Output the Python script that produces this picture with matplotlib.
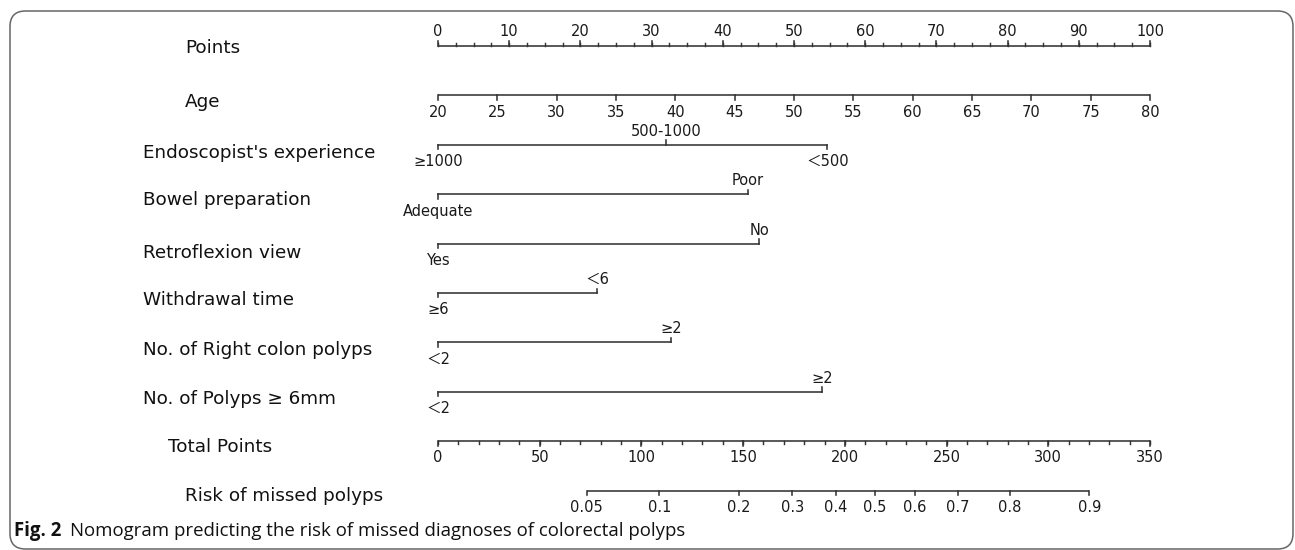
import numpy as np
import matplotlib
matplotlib.use("Agg")
import matplotlib.pyplot as plt
from matplotlib.patches import FancyBboxPatch
from matplotlib.transforms import blended_transform_factory

# ---------------- data ----------------
points_ticks = list(range(0, 101, 10))
points_minor = list(np.arange(0, 100.01, 2.5))

age_ticks = [20, 25, 30, 35, 40, 45, 50, 55, 60, 65, 70, 75, 80]
age_range = [20, 80]          # ages mapped to points 0..100
age_points_range = [0, 100]

endo_levels = ["≥1000", "500-1000", "＜500"]
endo_points = [0, 32.0, 54.7]
bowel_levels = ["Adequate", "Poor"]
bowel_points = [0, 43.5]
retro_levels = ["Yes", "No"]
retro_points = [0, 45.1]
withdraw_levels = ["≥6", "＜6"]
withdraw_points = [0, 22.4]
rightcolon_levels = ["＜2", "≥2"]
rightcolon_points = [0, 32.7]
polyps6_levels = ["＜2", "≥2"]
polyps6_points = [0, 53.9]

total_ticks = list(range(0, 351, 50))
total_minor = list(range(0, 351, 10))

risk_labels = ["0.05", "0.1", "0.2", "0.3", "0.4", "0.5", "0.6", "0.7", "0.8", "0.9"]
risk_total_points = [73.1, 108.8, 148.0, 174.2, 195.5, 214.8, 234.4, 255.5, 281.2, 320.2]

row_names = ["Points", "Age", "Endoscopist's experience", "Bowel preparation",
             "Retroflexion view", "Withdrawal time", "No. of Right colon polyps",
             "No. of Polyps ≥ 6mm", "Total Points", "Risk of missed polyps"]

# ---------------- layout ----------------
W, H = 1295, 550
FONT = ["DejaVu Sans", "Noto Sans CJK SC"]
plt.rcParams["font.family"] = FONT
LC = "#333333"
LW = 1.15
TICK_FS = 10.5
NAME_FS = 13.2

fig = plt.figure(figsize=(W / 100, H / 100), dpi=100)
fig.patch.set_facecolor("white")

row0_px, row_step = 46.0, 49.4
x0_px, x1_px = 438.0, 1150.0
top_px = row0_px - 0.5 * row_step
bot_px = row0_px + 9.5 * row_step
pos = [x0_px / W, 1 - bot_px / H, (x1_px - x0_px) / W, (bot_px - top_px) / H]

ax = fig.add_axes(pos)
ax.set_xlim(0, 100)
ax.set_ylim(9.5, -0.5)
ax.axis("off")

axt = fig.add_axes(pos)
axt.set_xlim(0, 350)
axt.set_ylim(9.5, -0.5)
axt.axis("off")

def px(v):
    return v / row_step

def scale(a, row, xs, labels, tick_dir, minor=None, major_len=4.5, minor_len=2.5,
          lab_off=15.0):
    xs = list(xs)
    a.plot([min(xs + (minor or xs)), max(xs + (minor or xs))], [row, row],
           color=LC, lw=LW, solid_capstyle="butt", clip_on=False)
    sgn = -1 if tick_dir == "up" else 1
    for x in xs:
        a.plot([x, x], [row, row + sgn * px(major_len)], color=LC, lw=LW, clip_on=False)
    if minor:
        for x in minor:
            a.plot([x, x], [row, row + sgn * px(minor_len)], color=LC, lw=LW * 0.9, clip_on=False)
    for x, lab in zip(xs, labels):
        a.text(x, row + sgn * px(lab_off), lab, ha="center", va="center",
               fontsize=TICK_FS, color="#1a1a1a", clip_on=False)

def cat_scale(a, row, xs, labels):
    a.plot([xs[0], max(xs)], [row, row], color=LC, lw=LW, clip_on=False)
    for i, (x, lab) in enumerate(zip(xs, labels)):
        if i % 2 == 0:   # below
            a.plot([x, x], [row, row + px(4.5)], color=LC, lw=LW, clip_on=False)
            a.text(x, row + px(17), lab, ha="center", va="center",
                   fontsize=TICK_FS, color="#1a1a1a", clip_on=False)
        else:            # above
            a.plot([x, x], [row, row - px(4.5)], color=LC, lw=LW, clip_on=False)
            a.text(x, row - px(13.5), lab, ha="center", va="center",
                   fontsize=TICK_FS, color="#1a1a1a", clip_on=False)

# Points
scale(ax, 0, points_ticks, [str(t) for t in points_ticks], "up",
      minor=points_minor, lab_off=14.5)
# Age
age_pts = np.interp(age_ticks, age_range, age_points_range)
scale(ax, 1, age_pts, [str(t) for t in age_ticks], "down", lab_off=17)
# categorical rows
cat_scale(ax, 2, endo_points, endo_levels)
cat_scale(ax, 3, bowel_points, bowel_levels)
cat_scale(ax, 4, retro_points, retro_levels)
cat_scale(ax, 5, withdraw_points, withdraw_levels)
cat_scale(ax, 6, rightcolon_points, rightcolon_levels)
cat_scale(ax, 7, polyps6_points, polyps6_levels)
# Total points
scale(axt, 8, total_ticks, [str(t) for t in total_ticks], "down",
      minor=total_minor, major_len=4.5, minor_len=3.0, lab_off=16)
# Risk
scale(axt, 9, risk_total_points, risk_labels, "down", lab_off=17)

# row names
name_x_px = [185, 185, 143, 143, 143, 143, 143, 143, 168, 185]
name_dy_px = [1.7, 7, 8, 6, 9, 7.5, 8, 7, 6, 5]
tr = blended_transform_factory(fig.transFigure, ax.transData)
for i, (nm, nx, dy) in enumerate(zip(row_names, name_x_px, name_dy_px)):
    ax.text(nx / W, i + px(dy), nm, transform=tr, ha="left", va="center",
            fontsize=NAME_FS, color="#111111", clip_on=False)

# caption
cap_font = ["Open Sans", "DejaVu Sans"]
t1 = fig.text(14 / W, 1 - 536 / H, "Fig. 2", fontsize=13.4, fontweight="bold",
              family=cap_font, va="baseline", ha="left", color="#111111")
fig.canvas.draw()
bb = t1.get_window_extent()
fig.text((bb.x1 + 9) / W, 1 - 536 / H, "Nomogram predicting the risk of missed diagnoses of colorectal polyps",
         fontsize=13.4, family=cap_font, va="baseline", ha="left", color="#111111")

# rounded border
border = FancyBboxPatch((10 / W, 1 - 549 / H), (1293 - 10) / W, (549 - 11) / H,
                        boxstyle="round,pad=0,rounding_size=0.012",
                        transform=fig.transFigure, fill=False,
                        edgecolor="#666666", lw=1.1, mutation_aspect=W / H)
fig.patches.append(border)

fig.savefig("out.png", dpi=100, facecolor="white")
